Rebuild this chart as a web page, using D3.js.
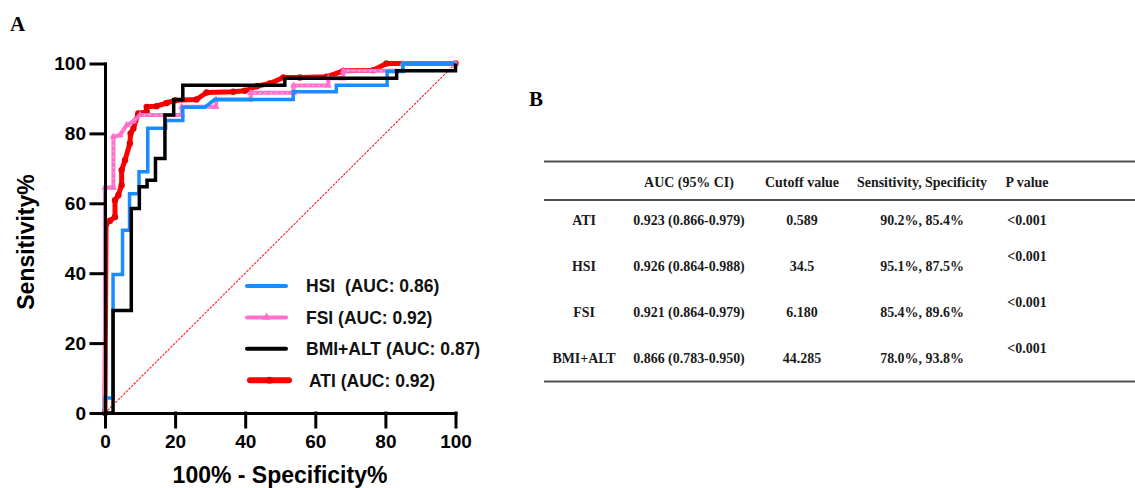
<!DOCTYPE html>
<html>
<head>
<meta charset="utf-8">
<script src="https://cdn.jsdelivr.net/npm/d3@7"></script>
<style>
  body { margin: 0; background: #fff; }
  svg { display: block; }
  .sans { font-family: "Liberation Sans", Arial, sans-serif; font-weight: bold; }
  .serif { font-family: "Liberation Serif", "Times New Roman", serif; font-weight: bold; }
</style>
</head>
<body>
<svg id="chart" width="1135" height="488"></svg>
<script>
// ROC curves, points are [100% - specificity, sensitivity]
let hsiPts = [[0,0],[0,4.3],[2.3,4.3],[2.3,39.6],[5,39.6],[5,52.3],[7,52.3],[7,62.7],[9.7,62.7],[9.7,69],
  [12.2,69],[12.2,81.5],[17.3,81.5],[17.3,83.7],[22.2,83.7],[22.2,87.5],[28.5,87.5],[31.3,89.7],
  [53.7,89.7],[53.7,91.9],[66,91.9],[66,93.8],[80.5,93.8],[80.5,97.7],[85,97.7],[85,100],[100,100]];
let fsiPts = [[0,0],[0,64.5],[2.4,64.5],[2.4,79.1],[4.3,79.5],[6.2,82.4],[8.1,83.4],[10,85.3],[21.9,85.3],
  [21.9,87.6],[31.7,87.6],[31.7,89.7],[41.6,89.7],[41.6,91.6],[53.8,91.6],[53.8,93.7],[63.7,93.7],
  [63.7,95.8],[68,95.8],[68,97.9],[85,97.9],[85,100],[100,100]];
let bmiPts = [[0,0],[2.3,0],[2.3,29.3],[7.5,29.3],[7.5,58.5],[9.8,58.5],[9.8,64.7],[12,64.7],[12,66.6],
  [14.4,66.6],[14.4,72.8],[17.1,72.8],[17.1,85.3],[19.6,85.3],[19.6,89.6],[22.2,89.6],[22.2,93.8],
  [51.3,93.8],[51.3,95.8],[83.2,95.8],[83.2,97.9],[100,97.9],[100,100]];
let atiPts = [[0,0],[0.3,54],[1.4,55],[2.85,56.1],[2.85,60.9],[3.8,62.3],[4.75,65.2],[4.75,69.5],[5.7,72.3],
  [7.1,77.1],[7.3,80],[8.1,81.4],[9.5,85.7],[11.9,86.2],[11.9,87.6],[14.7,87.8],[17.6,88.7],[20,89.5],
  [26.1,89.7],[29,91.7],[36.6,91.9],[39.9,92.2],[43.3,93.5],[47,94.3],[50.9,96],[55.6,96],[63.2,96.2],
  [68,97.9],[76.5,98.1],[80.3,100],[100,100]];

let legendLabels = ["HSI  (AUC: 0.86)", "FSI (AUC: 0.92)", "BMI+ALT (AUC: 0.87)", "ATI (AUC: 0.92)"];
let axisTicks = [0, 20, 40, 60, 80, 100];

// table B
let tableHeader = ["", "AUC (95% CI)", "Cutoff value", "Sensitivity, Specificity", "P value"];
let rowNames = ["ATI", "HSI", "FSI", "BMI+ALT"];
let aucCI = ["0.923 (0.866-0.979)", "0.926 (0.864-0.988)", "0.921 (0.864-0.979)", "0.866 (0.783-0.950)"];
let cutoffs = ["0.589", "34.5", "6.180", "44.285"];
let sensSpec = ["90.2%, 85.4%", "95.1%, 87.5%", "85.4%, 89.6%", "78.0%, 93.8%"];
let pValues = ["<0.001", "<0.001", "<0.001", "<0.001"];

let svg = d3.select("#chart");

let x = d3.scaleLinear().domain([0, 100]).range([105, 455.5]);
let y = d3.scaleLinear().domain([0, 100]).range([413, 63.5]);

let line = d3.line()
    .x(function (d) { return x(d[0]); })
    .y(function (d) { return y(d[1]); });

// panel letters
svg.append("text").attr("class", "serif").attr("x", 10).attr("y", 31)
    .attr("font-size", 21).text("A");
svg.append("text").attr("class", "serif").attr("x", 529).attr("y", 106)
    .attr("font-size", 21).text("B");

// reference diagonal
svg.append("path")
    .attr("d", line([[0, 0], [100, 100]]))
    .attr("fill", "none").attr("stroke", "#ff1a1a")
    .attr("stroke-width", 1.1).attr("stroke-dasharray", "2.5,1.2");

// ATI
svg.append("path").attr("d", line(atiPts))
    .attr("fill", "none").attr("stroke", "#ff0000")
    .attr("stroke-width", 5).attr("stroke-linejoin", "round");
svg.append("g").selectAll("circle")
    .data(atiPts)
    .enter()
    .append("circle")
    .attr("cx", function (d) { return x(d[0]); })
    .attr("cy", function (d) { return y(d[1]); })
    .attr("r", 3.2)
    .attr("fill", "#e80000");
svg.append("path").attr("d", line(atiPts.slice(0, 2)))
    .attr("fill", "none").attr("stroke", "#b00000")
    .attr("stroke-width", 1.5).attr("stroke-dasharray", "2,3");

// FSI
svg.append("path").attr("d", line(fsiPts))
    .attr("fill", "none").attr("stroke", "#ff70cc")
    .attr("stroke-width", 4);
svg.append("path").attr("d", line(fsiPts))
    .attr("fill", "none").attr("stroke", "#ffd0ee")
    .attr("stroke-width", 1).attr("stroke-dasharray", "1.5,4");
svg.append("g").selectAll("path")
    .data(fsiPts)
    .enter()
    .append("path")
    .attr("d", d3.symbol(d3.symbolTriangle, 22))
    .attr("transform", function (d) { return "translate(" + x(d[0]) + "," + y(d[1]) + ")"; })
    .attr("fill", "#ff70cc");

// HSI
svg.append("path").attr("d", line(hsiPts))
    .attr("fill", "none").attr("stroke", "#1a8cff")
    .attr("stroke-width", 3.5);

// BMI+ALT
svg.append("path").attr("d", line(bmiPts))
    .attr("fill", "none").attr("stroke", "#000")
    .attr("stroke-width", 3.5);

// axes
let yAxis = svg.append("g")
    .attr("transform", "translate(" + x(0) + ",0)")
    .call(d3.axisLeft(y).tickValues(axisTicks).tickSize(14).tickSizeOuter(0).tickPadding(5));
let xAxis = svg.append("g")
    .attr("transform", "translate(0," + y(0) + ")")
    .call(d3.axisBottom(x).tickValues(axisTicks).tickSize(14).tickSizeOuter(0).tickPadding(8));

[xAxis, yAxis].forEach(function (a) {
    a.selectAll("path, line").attr("stroke", "#000").attr("stroke-width", 3)
        .attr("stroke-linecap", "square");
    a.selectAll("text").attr("class", "sans").attr("font-size", 19).attr("fill", "#000");
});

svg.append("text").attr("class", "sans")
    .attr("x", 280).attr("y", 483)
    .attr("text-anchor", "middle").attr("font-size", 23)
    .text("100% - Specificity%");
svg.append("text").attr("class", "sans")
    .attr("transform", "translate(34,242) rotate(-90)")
    .attr("text-anchor", "middle").attr("font-size", 23)
    .text("Sensitivity%");

// legend
let legendColors = ["#1a8cff", "#ff70cc", "#000", "#ff0000"];
let legendWidths = [4, 4, 4, 6];
let legendShift = [0, 0, 0, 3];
let legend = svg.append("g").selectAll("g")
    .data(legendLabels)
    .enter()
    .append("g")
    .attr("transform", function (d, i) { return "translate(" + legendShift[i] + "," + (286 + i * 31.4) + ")"; });
legend.append("line")
    .attr("x1", 247).attr("x2", 286)
    .attr("stroke", function (d, i) { return legendColors[i]; })
    .attr("stroke-width", function (d, i) { return legendWidths[i]; })
    .attr("stroke-linecap", "round");
legend.filter(function (d, i) { return i === 1; })
    .append("path")
    .attr("d", d3.symbol(d3.symbolTriangle, 30))
    .attr("transform", "translate(266.5,0)")
    .attr("fill", "#ff70cc");
legend.filter(function (d, i) { return i === 3; })
    .append("circle")
    .attr("cx", 266.5).attr("r", 3.5).attr("fill", "#e00000");
legend.append("text").attr("class", "sans")
    .attr("x", 306).attr("dy", "0.36em")
    .attr("font-size", 17.5).attr("fill", "#111")
    .style("white-space", "pre")
    .text(function (d) { return d; });

// table
let colX = [584, 689, 802, 922, 1027];
let rowY = d3.scalePoint().domain(rowNames).range([220, 358]);
let tbl = svg.append("g").attr("class", "serif").attr("font-size", 15.5).attr("fill", "#1a1a1a");

[161.5, 200, 381.5].forEach(function (ly) {
    tbl.append("line").attr("x1", 544).attr("x2", 1135).attr("y1", ly).attr("y2", ly)
        .attr("stroke", "#505050").attr("stroke-width", 1.8);
});

// the table type is a little condensed
function cell(t, cx, cy) {
    tbl.append("text")
        .attr("transform", "translate(" + cx + "," + cy + ") scale(0.9,1)")
        .attr("dy", "0.35em")
        .attr("text-anchor", "middle")
        .text(t);
}

tableHeader.forEach(function (d, i) { cell(d, colX[i], 181.5); });

let columns = [rowNames, aucCI, cutoffs, sensSpec, pValues];
columns.forEach(function (col, c) {
    col.forEach(function (d, i) {
        let yy = rowY(rowNames[i]);
        if (c === 4 && i > 0) yy -= 10;
        cell(d, colX[c], yy);
    });
});
</script>
</body>
</html>
